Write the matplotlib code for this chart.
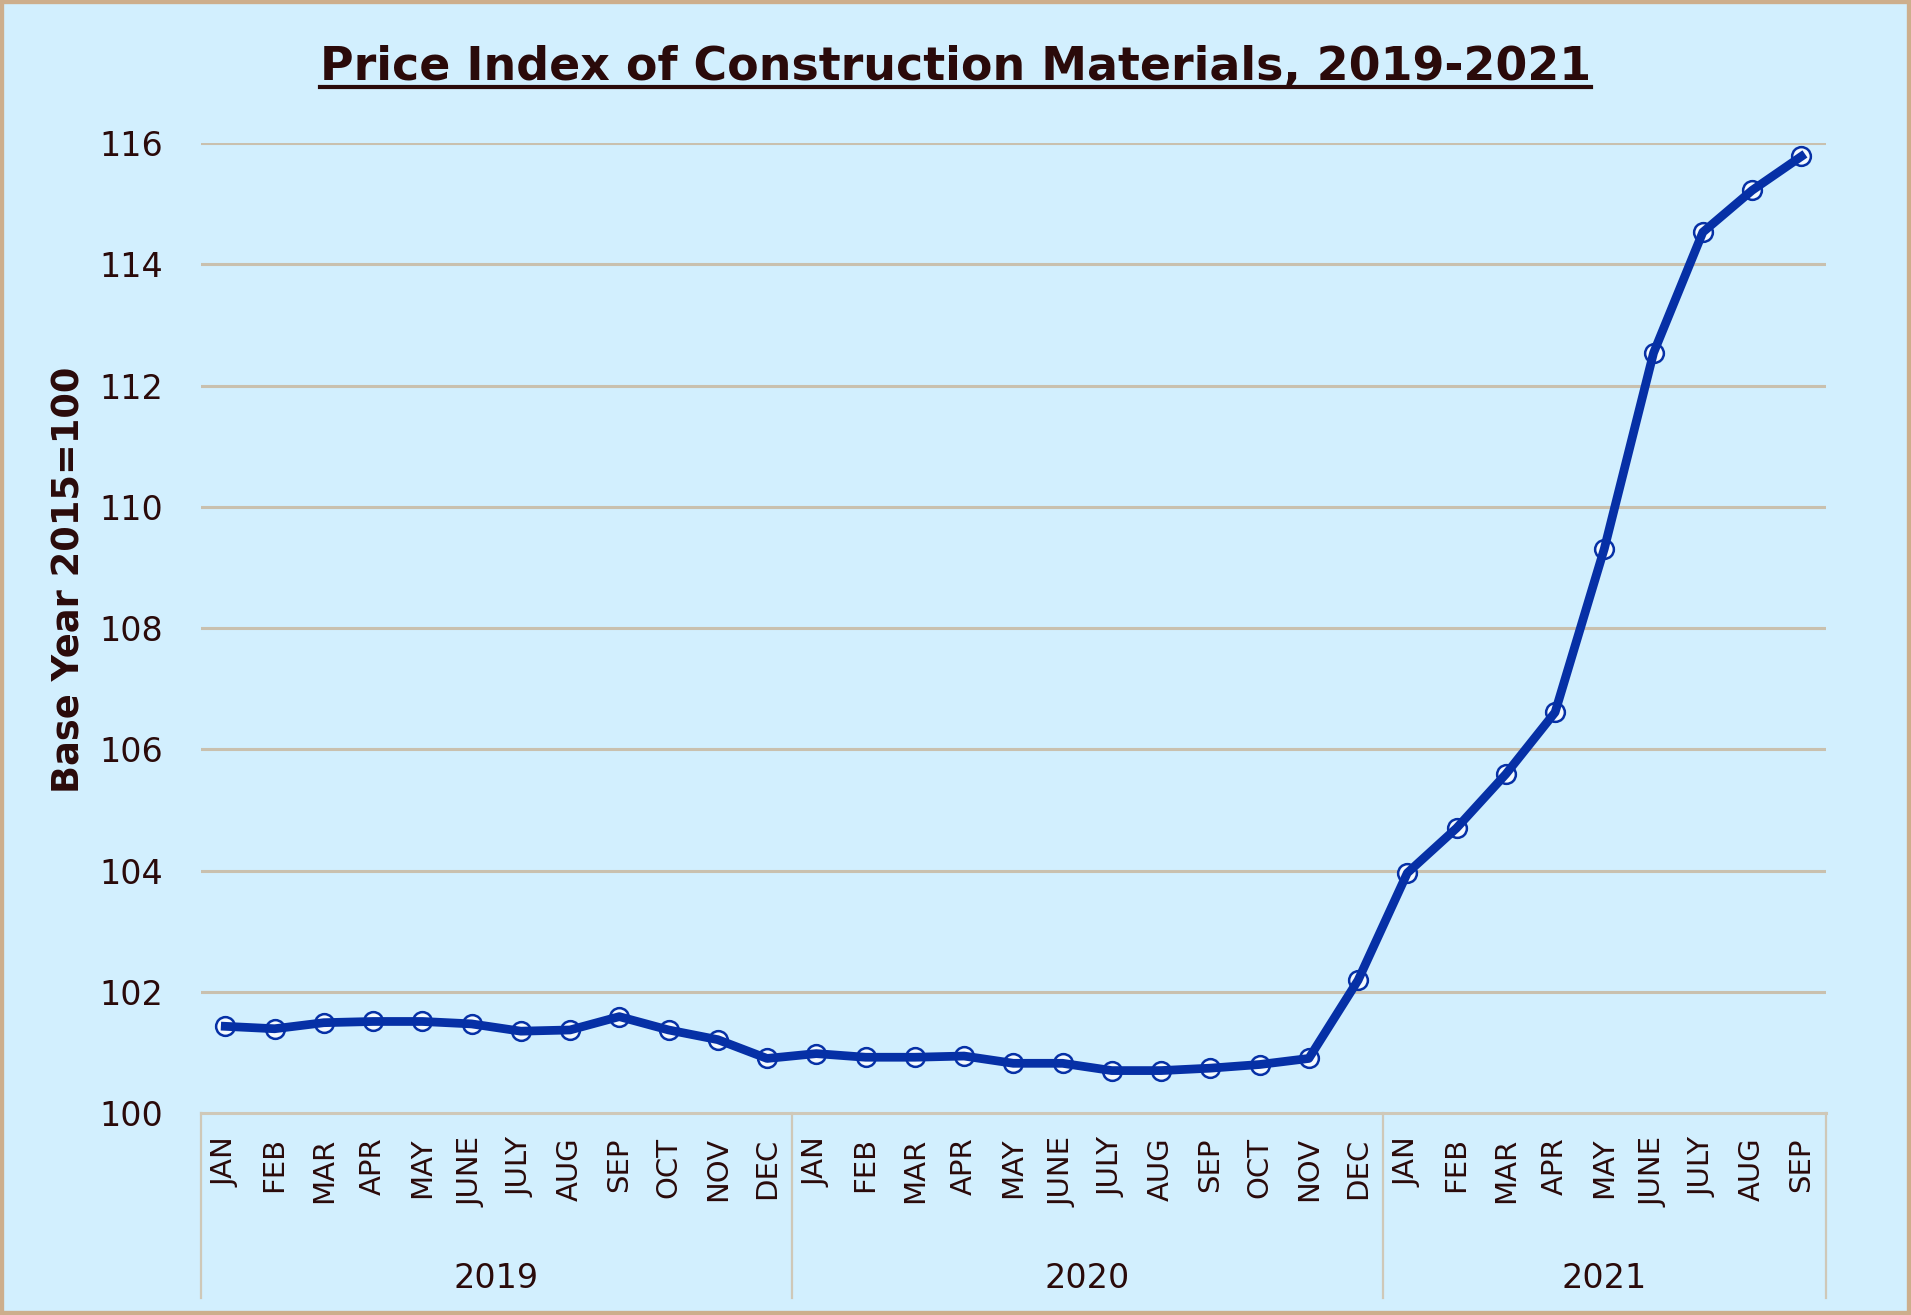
import matplotlib
matplotlib.use("Agg")
import matplotlib.pyplot as plt
from matplotlib.patches import Rectangle
from matplotlib.lines import Line2D

months = ["JAN", "FEB", "MAR", "APR", "MAY", "JUNE", "JULY", "AUG", "SEP", "OCT", "NOV", "DEC",
          "JAN", "FEB", "MAR", "APR", "MAY", "JUNE", "JULY", "AUG", "SEP", "OCT", "NOV", "DEC",
          "JAN", "FEB", "MAR", "APR", "MAY", "JUNE", "JULY", "AUG", "SEP"]
years = ["2019", "2020", "2021"]
year_counts = [12, 12, 9]
values = [101.43, 101.39, 101.49, 101.51, 101.51, 101.47, 101.35, 101.37, 101.59, 101.37, 101.21, 100.90,
          100.98, 100.92, 100.92, 100.94, 100.82, 100.82, 100.70, 100.70, 100.74, 100.80, 100.90, 102.19,
          103.96, 104.70, 105.59, 106.61, 109.31, 112.54, 114.53, 115.22, 115.78]
yticks = [100, 102, 104, 106, 108, 110, 112, 114, 116]

BG = "#D2EFFE"
TXT = "#2A0A0A"
GRID = "#C9C0AE"
LINE = "#0630A6"
FRAME = "#CFC8B8"

fig = plt.figure(figsize=(19.11, 13.15), dpi=100, facecolor=BG)
ax = fig.add_axes([0.105, 0.1536, 0.8505, 0.7376])
ax.set_facecolor(BG)

x = list(range(len(values)))
ax.plot(x, values, linestyle="none", marker="o", markersize=13.5, markerfacecolor="#F4FAFF",
        markeredgecolor="none", zorder=3)
ax.plot(x, values, color=LINE, linewidth=6.3, solid_joinstyle="round", zorder=4)
ax.plot(x, values, linestyle="none", marker="o", markersize=13.5, markerfacecolor="none",
        markeredgecolor=LINE, markeredgewidth=1.8, zorder=5)

ax.set_xlim(-0.5, len(values) - 0.5)
ax.set_ylim(100, 116)
ax.set_yticks(yticks)
ax.set_yticklabels([str(v) for v in yticks], fontsize=24, color=TXT)
ax.tick_params(axis="y", length=0, pad=27)
ax.set_xticks([])
for v in yticks[1:]:
    ax.axhline(v, color=GRID, linewidth=2.2, zorder=1)
for s in ax.spines.values():
    s.set_visible(False)

trans = ax.get_xaxis_transform()
# month labels
for i, m in enumerate(months):
    ax.text(i, -0.025, m, rotation=90, ha="center", va="top", fontsize=21, color=TXT,
            transform=trans, clip_on=False)
# category frame
frame_bottom = -0.1907
ax.add_line(Line2D([-0.5, len(values) - 0.5], [0, 0], transform=trans, color=FRAME,
                   linewidth=2.2, clip_on=False, zorder=2))
start = -0.5
bounds = [start]
for c in year_counts:
    start += c
    bounds.append(start)
for b in bounds:
    ax.add_line(Line2D([b, b], [0, frame_bottom], transform=trans, color=FRAME,
                       linewidth=1.6, clip_on=False))
for k, yr in enumerate(years):
    ax.text((bounds[k] + bounds[k + 1]) / 2, -0.1706, yr, ha="center", va="center",
            fontsize=24, color=TXT, transform=trans, clip_on=False)

fig.text(0.036, 1 - 580 / 1315, "Base Year 2015=100", rotation=90, ha="center", va="center",
         fontsize=26.5, fontweight="bold", color=TXT)

title = fig.text(0.5, 1 - 80 / 1315, "Price Index of Construction Materials, 2019-2021",
                 ha="center", va="baseline", fontsize=33, fontweight="bold", color=TXT)

fig.canvas.draw()
bb = title.get_window_extent()
uy = 1 - 87 / 1315
fig.add_artist(Line2D([bb.x0 / fig.bbox.width, bb.x1 / fig.bbox.width], [uy, uy],
                      transform=fig.transFigure, color=TXT, linewidth=3))

fig.patches.append(Rectangle((0, 0), 1, 1, transform=fig.transFigure, fill=False,
                             edgecolor="#CDAE8C", linewidth=6, zorder=10))

fig.savefig("out.png", dpi=100, facecolor=BG)
